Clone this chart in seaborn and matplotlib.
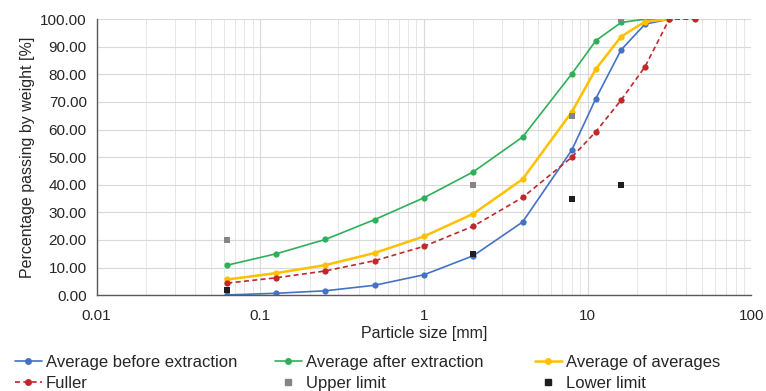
import pandas as pd
import seaborn as sns
import matplotlib.pyplot as plt
from matplotlib.lines import Line2D
from matplotlib.ticker import FixedLocator, LogLocator, NullFormatter

# tamanhos das peneiras [mm]
sizes = [0.063, 0.125, 0.25, 0.5, 1, 2, 4, 8, 11.2, 16, 22.4, 31.5]
before = [0.1, 0.7, 1.6, 3.6, 7.4, 14.3, 26.5, 52.6, 71.2, 88.9, 98.2, 100.0]
after = [10.9, 15.0, 20.2, 27.4, 35.3, 44.7, 57.3, 80.2, 92.2, 98.8, 100.0, 100.0]
avg = [5.7, 8.0, 10.9, 15.3, 21.3, 29.5, 42.0, 66.4, 81.9, 93.7, 99.1, 100.0]

fuller_sizes = [0.063, 0.125, 0.25, 0.5, 1, 2, 4, 8, 11.2, 16, 22.4, 31.5, 45]
fuller = [4.4, 6.3, 8.8, 12.5, 17.7, 25.0, 35.4, 50.0, 59.2, 70.7, 82.8, 100.0, 100.0]

limit_sizes = [0.063, 2, 8, 16]
upper = [20, 40, 65, 100]
lower = [2, 15, 35, 40]

c_blue, c_green, c_yellow, c_red = '#4472C4', '#2EB05A', '#FFC000', '#C0282B'
c_grey, c_black = '#858585', '#1E1E1E'

sns.set_style('whitegrid')
plt.rcParams['font.family'] = ['Liberation Sans', 'DejaVu Sans']

fig, ax = plt.subplots(figsize=(7.66, 3.91), dpi=100)
fig.subplots_adjust(left=0.126, right=0.981, top=0.951, bottom=0.245)

df = pd.DataFrame({'size': sizes, 'before': before, 'after': after, 'avg': avg})
df_f = pd.DataFrame({'size': fuller_sizes, 'fuller': fuller})
df_l = pd.DataFrame({'size': limit_sizes, 'upper': upper, 'lower': lower})

kw = dict(marker='o', markersize=4.5, markeredgewidth=0, legend=False, ax=ax)
sns.lineplot(data=df, x='size', y='before', color=c_blue, linewidth=1.2, **kw)
sns.lineplot(data=df, x='size', y='after', color=c_green, linewidth=1.2, **kw)
sns.lineplot(data=df, x='size', y='avg', color=c_yellow, linewidth=1.8, **kw)
sns.lineplot(data=df_f, x='size', y='fuller', color=c_red, linewidth=1.2,
             linestyle=(0, (3, 2)), **kw)
sns.scatterplot(data=df_l, x='size', y='upper', color=c_grey, marker='s', s=22,
                linewidth=0, legend=False, ax=ax, zorder=3)
sns.scatterplot(data=df_l, x='size', y='lower', color=c_black, marker='s', s=22,
                linewidth=0, legend=False, ax=ax, zorder=3)

ax.set_xscale('log')
ax.set_xlim(0.01, 100)
ax.set_ylim(0, 100)
ax.set_xticks([0.01, 0.1, 1, 10, 100])
ax.set_xticklabels(['0.01', '0.1', '1', '10', '100'])
ax.xaxis.set_minor_locator(LogLocator(base=10, subs=range(2, 10)))
ax.xaxis.set_minor_formatter(NullFormatter())
ax.yaxis.set_major_locator(FixedLocator(range(0, 101, 10)))
ax.set_yticklabels([f'{v:.2f}' for v in range(0, 101, 10)])

ax.grid(which='major', color='#d9d9d9', linewidth=0.8)
ax.grid(which='minor', axis='x', color='#e6e6e6', linewidth=0.7)
for s in ['top', 'right']:
    ax.spines[s].set_visible(False)
for s in ['left', 'bottom']:
    ax.spines[s].set_color('#595959')
    ax.spines[s].set_linewidth(1.0)
ax.tick_params(axis='both', which='major', length=4, color='#595959',
               labelsize=11, labelcolor='#262626', direction='out')
ax.tick_params(axis='x', which='minor', length=0)
ax.tick_params(axis='x', pad=6)
ax.tick_params(axis='y', pad=3)

ax.set_xlabel('Particle size [mm]', fontsize=11.5, color='#262626', labelpad=2)
ax.set_ylabel('Percentage passing by weight [%]', fontsize=11.5, color='#262626', labelpad=4)

# legenda: 3 colunas de largura fixa, cada uma com 2 linhas
def h_line(color, lw=1.2, ls='-'):
    return Line2D([], [], color=color, marker='o', markersize=4, lw=lw, linestyle=ls)

def h_square(color):
    return Line2D([], [], color=color, marker='s', markersize=4, lw=0)

columns = [
    ([h_line(c_blue), h_line(c_red, ls=(0, (3, 2)))], ['Average before extraction', 'Fuller'], 15),
    ([h_line(c_green), h_square(c_grey)], ['Average after extraction', 'Upper limit'], 275),
    ([h_line(c_yellow, lw=1.8), h_square(c_black)], ['Average of averages', 'Lower limit'], 535),
]
for hs, ls, x0 in columns:
    leg = fig.legend(hs, ls, loc='upper left', bbox_to_anchor=(x0 / 766, 1 - 355 / 391),
                     frameon=False, fontsize=12, handlelength=1.6, handletextpad=0.25,
                     labelspacing=0.35, borderpad=0, borderaxespad=0, labelcolor='#262626')

fig.savefig('out.png', dpi=100)
